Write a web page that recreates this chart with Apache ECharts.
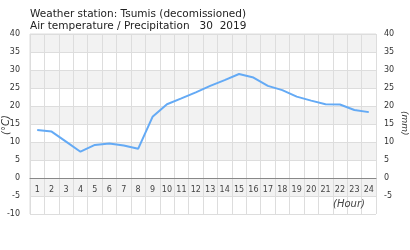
<!DOCTYPE html>
<html><head><meta charset="utf-8">
<script src="https://cdn.jsdelivr.net/npm/echarts@6/dist/echarts.min.js"></script>
<style>html,body{margin:0;padding:0;background:#fff}#c{width:410px;height:250px}</style>
</head><body><div id="c"></div>
<script>
const hours = ['1','2','3','4','5','6','7','8','9','10','11','12','13','14','15','16','17','18','19','20','21','22','23','24'];
const airTemp = [13.3,12.9,10.1,7.3,9.2,9.6,9.0,8.1,17.0,20.5,22.1,23.8,25.6,27.2,28.9,27.9,25.6,24.4,22.6,21.5,20.5,20.4,18.9,18.3];
const titleLines = ['Weather station: Tsumis (decomissioned)', 'Air temperature / Precipitation   30  2019'];
const font = 'DejaVu Sans';
const chart = echarts.init(document.getElementById('c'), null, {renderer:'canvas'});
chart.setOption({
  animation:false,
  textStyle:{fontFamily:font},
  title:{text:titleLines.join('\n'), left:30, top:8, padding:0, textStyle:{fontFamily:font,fontSize:10.5,fontWeight:'normal',color:'#222',lineHeight:12.5}},
  grid:{left:30, right:34, top:34, bottom:36, show:true, borderColor:'#ddd', borderWidth:1, containLabel:false, outerBoundsMode:'none'},
  xAxis:{type:'category', data:hours, boundaryGap:true, offset:-36,
    axisLine:{onZero:false, lineStyle:{color:'#888'}},
    axisTick:{show:false},
    axisLabel:{interval:0, fontSize:8, color:'#444', margin:8},
    splitLine:{show:true, interval:0, lineStyle:{color:'#ddd'}}
  },
  yAxis:[
    {type:'value', min:-10, max:40, interval:5, position:'left',
     axisLine:{show:false}, axisTick:{show:false},
     axisLabel:{fontSize:8, color:'#333', margin:10},
     splitLine:{lineStyle:{color:'#ddd'}},
     splitArea:{show:true, areaStyle:{color:['#ffffff','#f2f2f2']}}
    },
    {type:'value', min:-10, max:40, interval:5, position:'right',
     axisLine:{show:false}, axisTick:{show:false},
     axisLabel:{fontSize:8, color:'#333', margin:8, formatter:v => v === -10 ? '' : String(v)},
     splitLine:{show:false}
    }
  ],
  graphic:[
    {type:'text', x:333, y:199, z:100, style:{text:'(Hour)', font:'italic 10px "DejaVu Sans"', fill:'#444'}},
    {type:'text', x:1, y:135, z:100, rotation:Math.PI/2, style:{text:'(°C)', font:'italic 10px "DejaVu Sans"', fill:'#333'}},
    {type:'text', x:409, y:111, z:100, rotation:-Math.PI/2, style:{text:'(mm)', font:'italic 9px "DejaVu Sans"', fill:'#333'}}
  ],
  series:[{type:'line', data:airTemp, yAxisIndex:0, showSymbol:false, symbol:'none',
    lineStyle:{color:'#64aaf5', width:2}}]
});
</script></body></html>
